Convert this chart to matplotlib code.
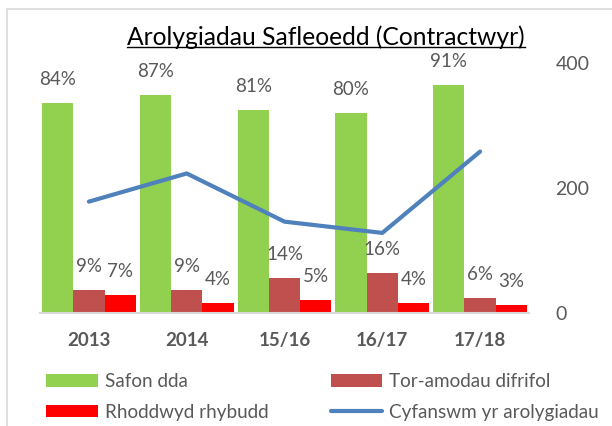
import matplotlib
matplotlib.use("Agg")
import matplotlib.pyplot as plt
import numpy as np
from matplotlib.patches import Rectangle
from matplotlib.lines import Line2D

plt.rcParams['font.family'] = ['Lato', 'DejaVu Sans']

categories = ["2013", "2014", "15/16", "16/17", "17/18"]
safon_dda = [0.84, 0.87, 0.81, 0.80, 0.91]
tor_amodau = [0.09, 0.09, 0.14, 0.16, 0.06]
rhoddwyd = [0.07, 0.04, 0.05, 0.04, 0.03]
cyfanswm = [178, 223, 146, 128, 258]
right_ticks = [0, 200, 400]

GREY = "#595959"
W, H = 612, 426
fig = plt.figure(figsize=(W / 100, H / 100), dpi=100)

# chart border (cropped chart frame)
fig.patches.append(Rectangle((7 / W, -0.1), 1.2, 1 - 9 / H + 0.1, transform=fig.transFigure,
                             fill=False, edgecolor="#D9D9D9", linewidth=1.2))

ax = fig.add_axes([40 / W, 1 - 313 / H, (529 - 40) / W, (313 - 62.7) / H])
x = np.arange(len(categories))
bw = 0.32
series = [(safon_dda, "#92D050", "Safon dda", -bw),
          (tor_amodau, "#C0504D", "Tor-amodau difrifol", 0),
          (rhoddwyd, "#FF0000", "Rhoddwyd rhybudd", bw)]
handles = {}
for vals, col, lab, off in series:
    bars = ax.bar(x + off, vals, width=bw, color=col, label=lab, zorder=2)
    handles[lab] = bars
    for xi, v in zip(x + off, vals):
        ax.annotate(f"{round(v * 100):d}%", (xi, v), xytext=(0, 17), textcoords="offset points",
                    ha="center", va="center", fontsize=13.5, color=GREY)

ax.set_ylim(0, 1)
ax.set_xlim(-0.5, len(categories) - 0.5)
ax.set_xticks(x)
ax.set_xticklabels(categories, fontsize=13.5, fontweight="bold", color=GREY)
ax.tick_params(axis="x", length=0, pad=14)
ax.set_yticks([])
for s in ["top", "right", "left"]:
    ax.spines[s].set_visible(False)
ax.spines["bottom"].set_color("#D9D9D9")
ax.spines["bottom"].set_linewidth(1.5)
ax.patch.set_visible(False)

ax2 = ax.twinx()
line, = ax2.plot(x, cyfanswm, color="#4F81BD", linewidth=3, label="Cyfanswm yr arolygiadau",
                 solid_capstyle="round", zorder=3)
ax2.set_ylim(0, 400)
ax2.set_yticks(right_ticks)
ax2.set_yticklabels([str(t) for t in right_ticks], fontsize=14, color=GREY)
ax2.tick_params(axis="y", length=0, pad=19)
for s in ["top", "right", "left", "bottom"]:
    ax2.spines[s].set_visible(False)

# title with underline
title = fig.text(326 / W, 1 - 37 / H, "Arolygiadau Safleoedd (Contractwyr)", ha="center", va="center",
                 fontsize=17.7, color="black")
fig.canvas.draw()
bb = title.get_window_extent().transformed(fig.transFigure.inverted())
fig.add_artist(Line2D([bb.x0, bb.x1], [bb.y0 + 0.004, bb.y0 + 0.004], transform=fig.transFigure,
                      color="black", linewidth=1))

hl = [handles["Safon dda"], handles["Rhoddwyd rhybudd"], handles["Tor-amodau difrifol"], line]
labels = ["Safon dda", "Rhoddwyd rhybudd", "Tor-amodau difrifol", "Cyfanswm yr arolygiadau"]
leg = fig.legend(hl, labels, ncol=2, loc="upper left", bbox_to_anchor=(29 / W, 1 - 356 / H),
                 frameon=False, fontsize=13.6, handlelength=2.75, handleheight=0.65,
                 columnspacing=3.3, labelspacing=0.72, handletextpad=0.35, labelcolor=GREY)

fig.savefig("out.png", dpi=100)
